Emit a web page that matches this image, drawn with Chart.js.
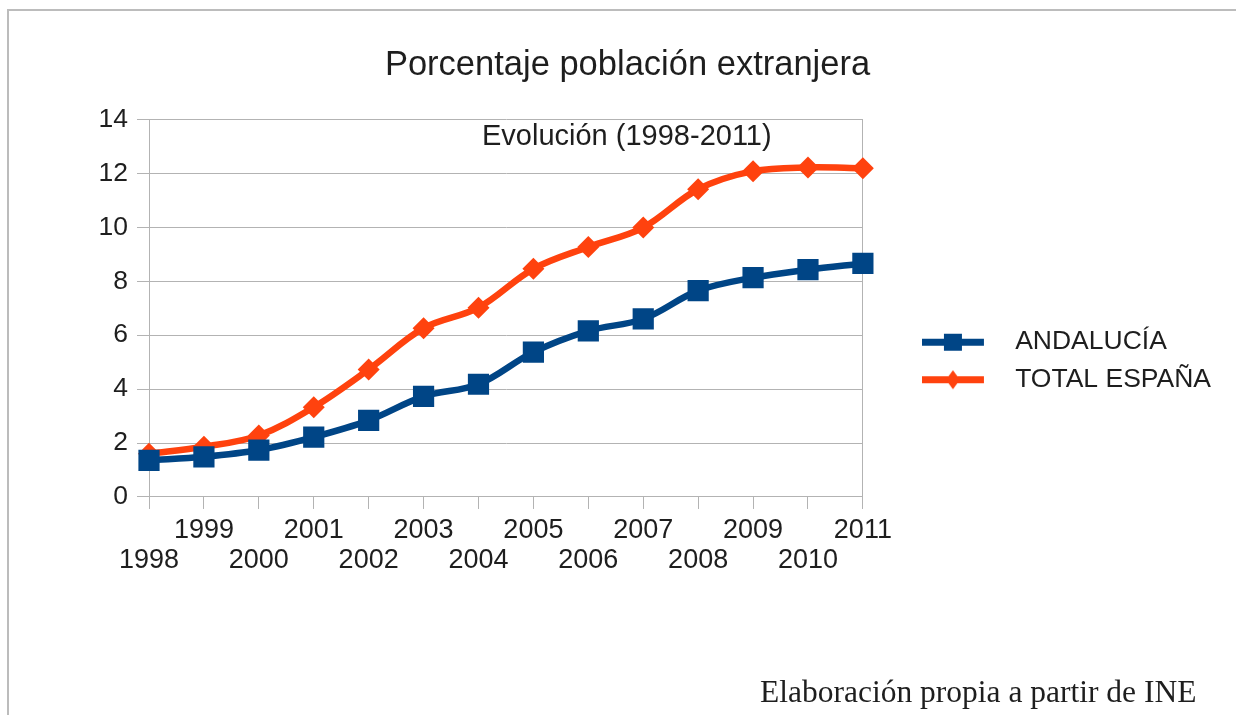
<!DOCTYPE html>
<html>
<head>
<meta charset="utf-8">
<script src="https://cdn.jsdelivr.net/npm/chart.js@4.4.1/dist/chart.umd.min.js"></script>
<style>
  html, body { margin: 0; padding: 0; background: #fff; }
  #wrap { position: relative; width: 1236px; height: 715px; overflow: hidden; }
  #frame { position: absolute; left: 7px; top: 9px; width: 1300px; height: 800px;
           border-top: 2px solid #bcbcbc; border-left: 2px solid #bcbcbc; }
  #subtitle { position: absolute; left: 482px; top: 119px; font: 29px "Liberation Sans", Arial, sans-serif;
              color: #1e1e1e; white-space: nowrap; }
  #source { position: absolute; left: 760px; top: 674px; font: 31.5px "Liberation Serif", "Times New Roman", serif;
            color: #1e1e1e; white-space: nowrap; }
  #chart { position: absolute; left: 0; top: 0; width: 1236px; height: 715px; }
</style>
</head>
<body>
<div id="wrap">
  <div id="frame"></div>
  <div id="chart"><canvas id="lineChart"></canvas></div>
  <div id="subtitle">Evolución (1998-2011)</div>
  <div id="source">Elaboración propia a partir de INE</div>
</div>
<script>
// data
const years = ["1998", "1999", "2000", "2001", "2002", "2003", "2004", "2005", "2006", "2007", "2008", "2009", "2010", "2011"];
const andalucia = [1.36, 1.49, 1.74, 2.22, 2.84, 3.73, 4.18, 5.37, 6.16, 6.6, 7.65, 8.13, 8.43, 8.66];
const totalEspana = [1.6, 1.86, 2.28, 3.33, 4.73, 6.26, 7.02, 8.46, 9.27, 9.99, 11.41, 12.08, 12.22, 12.19];
const yTicks = [0, 2, 4, 6, 8, 10, 12, 14];

const blue = "#004586";
const orange = "#ff420e";
const grey = "#b3b3b3";

// little legend symbols: a line with the marker on it
function legendSymbol(color, shape) {
  const c = document.createElement("canvas");
  c.width = 80;
  c.height = 24;
  const ctx = c.getContext("2d");
  ctx.fillStyle = color;
  ctx.fillRect(0, 9, 62, 7);
  if (shape === "square") {
    ctx.fillRect(22, 4, 18, 17);
  } else {
    ctx.beginPath();
    ctx.moveTo(31, 3);
    ctx.lineTo(38, 12.5);
    ctx.lineTo(31, 22);
    ctx.lineTo(24, 12.5);
    ctx.closePath();
    ctx.fill();
  }
  return c;
}

Chart.defaults.font.family = "'Liberation Sans', Arial, sans-serif";
Chart.defaults.color = "#1e1e1e";

new Chart(document.getElementById("lineChart"), {
  type: "line",
  data: {
    labels: years,
    datasets: [
      {
        label: "ANDALUCÍA",
        data: andalucia,
        borderColor: blue,
        backgroundColor: blue,
        borderWidth: 6.5,
        tension: 0.35,
        pointStyle: "rect",
        pointRadius: 15,
        pointHoverRadius: 15,
        pointBorderWidth: 0,
        pointBackgroundColor: blue,
      },
      {
        label: "TOTAL ESPAÑA",
        data: totalEspana,
        borderColor: orange,
        backgroundColor: orange,
        borderWidth: 6.5,
        tension: 0.35,
        pointStyle: "rectRot",
        pointRadius: 11,
        pointHoverRadius: 11,
        pointBorderWidth: 0,
        pointBackgroundColor: orange,
      },
    ],
  },
  options: {
    responsive: true,
    maintainAspectRatio: false,
    devicePixelRatio: 1,
    animation: false,
    layout: { padding: { left: 34, right: 15, top: 0, bottom: 133 } },
    plugins: {
      title: {
        display: true,
        text: "Porcentaje población extranjera",
        font: { size: 34.5, weight: "normal" },
        color: "#1e1e1e",
        padding: { top: 45, bottom: 33 },
      },
      legend: {
        position: "right",
        align: "center",
        maxWidth: 420,
        title: { display: true, text: " ", font: { size: 10 }, padding: { top: 127, bottom: 0 } },
        labels: {
          font: { size: 26.5 },
          color: "#1e1e1e",
          usePointStyle: true,
          pointStyleWidth: 80,
          padding: 11,
          generateLabels: (chart) =>
            chart.data.datasets.map((ds, i) => ({
              text: ds.label,
              pointStyle: legendSymbol(ds.borderColor, i === 0 ? "square" : "diamond"),
              fillStyle: ds.borderColor,
              strokeStyle: ds.borderColor,
              lineWidth: 0,
              hidden: false,
              datasetIndex: i,
            })),
        },
      },
      tooltip: { enabled: false },
    },
    scales: {
      x: {
        offset: false,
        grid: { drawOnChartArea: false, color: grey, tickLength: 12, lineWidth: 1 },
        border: { color: grey, width: 1 },
        ticks: {
          autoSkip: false,
          maxRotation: 0,
          font: { size: 27, lineHeight: 1.13 },
          padding: 6,
          callback: function (value, index) {
            const label = years[index];
            return index % 2 === 0 ? ["", label] : [label, ""];
          },
        },
      },
      y: {
        min: 0,
        max: 14,
        afterFit: (scale) => { scale.width = 115; },
        afterBuildTicks: (scale) => { scale.ticks = yTicks.map((v) => ({ value: v })); },
        grid: { color: grey, tickLength: 12, lineWidth: 1 },
        border: { color: grey, width: 1 },
        ticks: { font: { size: 26.5 }, padding: 9 },
      },
      y2: {
        position: "right",
        min: 0,
        max: 14,
        afterFit: (scale) => { scale.width = 48; },
        grid: { display: false },
        border: { color: grey, width: 1 },
        ticks: { display: false },
      },
    },
  },
});
</script>
</body>
</html>
